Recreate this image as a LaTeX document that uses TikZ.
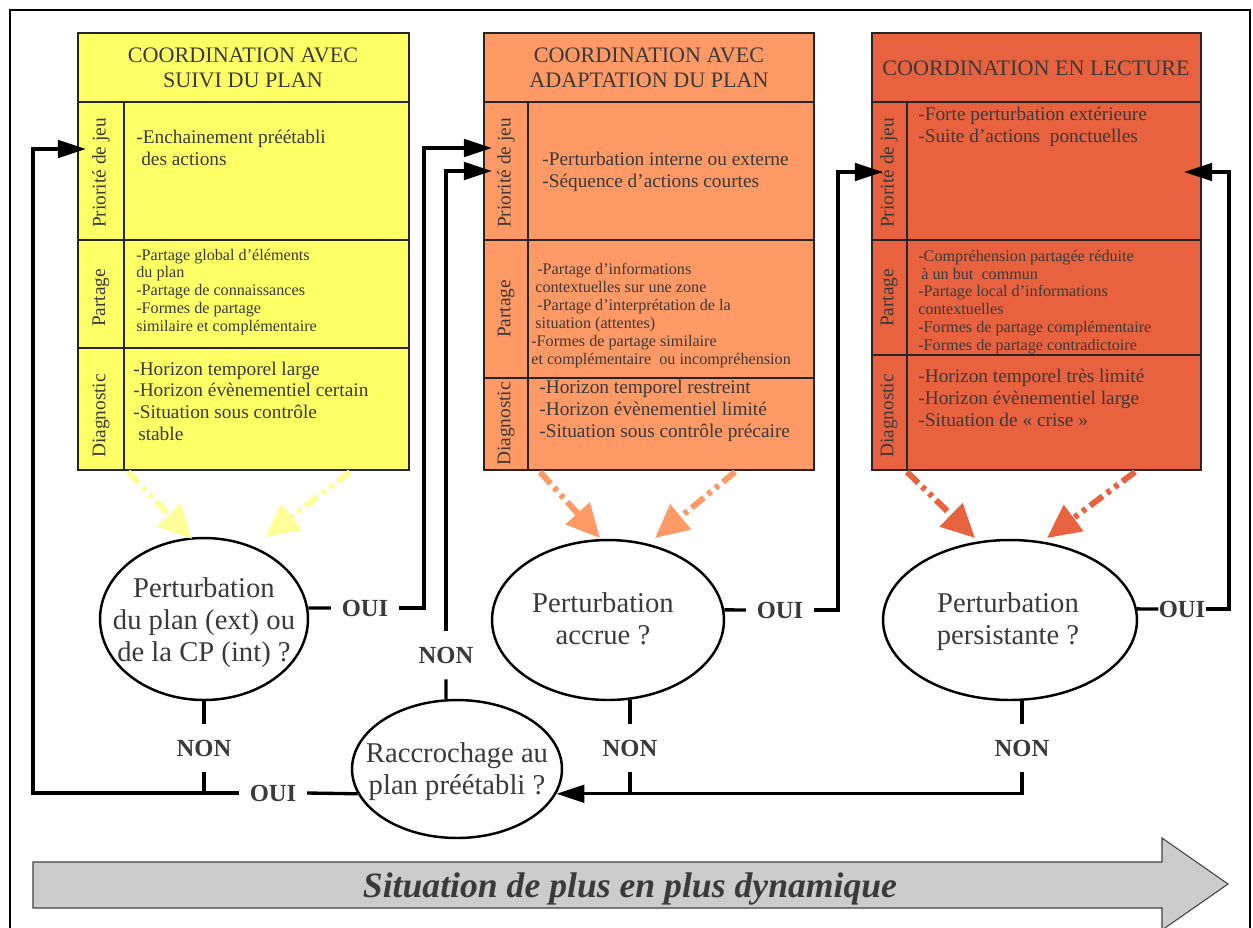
\documentclass[tikz,border=0pt]{standalone}
\usepackage{fontspec}
\setmainfont{Liberation Serif}
\usetikzlibrary{arrows.meta,shapes.geometric}
\definecolor{jaune}{HTML}{FFFF66}
\definecolor{jaunepale}{HTML}{FFFF99}
\definecolor{saumon}{HTML}{FF9966}
\definecolor{brique}{HTML}{E9623F}
\definecolor{encre}{HTML}{3A3A3A}
\definecolor{grisfleche}{HTML}{CCCCCC}
\newcommand{\taille}[2]{\fontsize{#1}{#2}\selectfont}

\begin{document}
\begin{tikzpicture}[x=0.02cm,y=-0.02cm,
  cadre/.style={draw=black!85,line width=0.7pt},
  tableau/.style={cadre,anchor=north west,inner sep=0pt,outer sep=0pt,minimum height=8.74cm,fill=#1},
  titre/.style={align=center,text=encre,font=\taille{12.6}{14.2}},
  cote/.style={rotate=90,text=encre,font=\taille{11}{13}},
  grand/.style={anchor=base west,align=left,inner sep=0pt,text=encre,font=\taille{11}{12.3}},
  petit/.style={anchor=base west,align=left,inner sep=0pt,text=encre,font=\taille{9.2}{10.1}},
  bulle/.style={ellipse,draw,line width=1.4pt,inner sep=0pt},
  bulletxt/.style={align=center,text=encre,font=\taille{16.3}{18.2}},
  lbl/.style={text=encre,font=\bfseries\taille{14}{16},inner xsep=6pt,inner ysep=9pt},
  lien/.style={line width=1.9pt},
  fleche/.style={lien,-{Triangle[length=16pt,width=10pt]}},
  influence/.style={draw=#1,line width=3.4pt,dash pattern=on 9pt off 3pt on 2.5pt off 3pt on 2.5pt off 3pt,-{Triangle[length=19pt,width=18pt,fill=#1]}}]
\useasboundingbox (0,0) rectangle (1253,927);
\draw[line width=0.9pt] (10,10) rectangle (1250,960);

% les trois tableaux
\node[tableau=jaune,minimum width=6.62cm] (boxA) at (78,33) {};
\draw[cadre] (78,102) -- (409,102);
\draw[cadre] (124,102) -- (124,470);
\draw[cadre] (78,240) -- (409,240);
\draw[cadre] (78,348) -- (409,348);
\node[tableau=saumon,minimum width=6.6cm] (boxB) at (484,33) {};
\draw[cadre] (484,102) -- (814,102);
\draw[cadre] (528,102) -- (528,470);
\draw[cadre] (484,240) -- (814,240);
\draw[cadre] (484,378) -- (814,378);
\node[tableau=brique,minimum width=6.58cm] (boxC) at (872,33) {};
\draw[cadre] (872,102) -- (1201,102);
\draw[cadre] (907,102) -- (907,470);
\draw[cadre] (872,240) -- (1201,240);
\draw[cadre] (872,355) -- (1201,355);

% textes (ancre sur la ligne de base de la derniere ligne)
\node[titre] (titreA) at (243,68) {COORDINATION AVEC\\SUIVI DU PLAN};
\node[cote] (prioA) at (101,173) {Priorité de jeu};
\node[cote] (partA) at (101,298) {Partage};
\node[cote] (diagA) at (101,416) {Diagnostic};
\node[grand] (txtA1) at (136,165) {-Enchainement préétabli\\\hspace{2.8pt}des actions};
\node[petit] (txtA2) at (136,331) {-Partage global d'éléments\\du plan\\-Partage de connaissances\\-Formes de partage\\similaire et complémentaire};
\node[grand] (txtA3) at (133,440) {-Horizon temporel large\\-Horizon évènementiel certain\\-Situation sous contrôle\\\hspace{2.8pt}stable};

\node[titre] (titreB) at (649,68) {COORDINATION AVEC\\ADAPTATION DU PLAN};
\node[cote] (prioB) at (506,173) {Priorité de jeu};
\node[cote] (partB) at (506,309) {Partage};
\node[cote] (diagB) at (506,424) {Diagnostic};
\node[grand] (txtB1) at (542,187) {-Perturbation interne ou externe\\-Séquence d'actions courtes};
\node[petit,font=\taille{9.2}{10.2}] (txtB2) at (531,364) {\hspace{3.4pt}-Partage d'informations\\\hspace{2.3pt}contextuelles sur une zone\\\hspace{3.4pt}-Partage d'interprétation de la\\\hspace{2.3pt}situation (attentes)\\-Formes de partage similaire\\et complémentaire~ ou incompréhension};
\node[grand] (txtB3) at (539,437) {-Horizon temporel restreint\\-Horizon évènementiel limité\\-Situation sous contrôle précaire};

\node[titre] (titreC) at (1036,68) {COORDINATION EN LECTURE};
\node[cote] (prioC) at (889,173) {Priorité de jeu};
\node[cote] (partC) at (889,298) {Partage};
\node[cote] (diagC) at (889,416) {Diagnostic};
\node[grand] (txtC1) at (918,142) {-Forte perturbation extérieure\\-Suite d'actions~ ponctuelles};
\node[petit] (txtC2) at (918,350) {-Compréhension partagée réduite\\\hspace{1.7pt}à un but~ commun\\-Partage local d'informations\\contextuelles\\-Formes de partage complémentaire\\-Formes de partage contradictoire};
\node[grand] (txtC3) at (918,426) {-Horizon temporel très limité\\-Horizon évènementiel large\\-Situation de « crise »};

% les questions
\node[bulle,minimum width=4.16cm,minimum height=3.24cm] (pplan) at (204,619) {};
\node[bulletxt] (pplantxt) at (204,623) {Perturbation\\du plan (ext) ou\\de la CP (int) ?};
\node[bulle,minimum width=4.64cm,minimum height=3.2cm] (paccrue) at (608,620) {};
\node[bulletxt] (paccruetxt) at (603,619) {Perturbation\\accrue ?};
\node[bulle,minimum width=5.08cm,minimum height=3.2cm] (ppersist) at (1010,620) {};
\node[bulletxt] (ppersisttxt) at (1008,622) {Perturbation\\persistante ?};
\node[bulle,minimum width=4.2cm,minimum height=2.76cm] (raccroche) at (457,769) {};
\node[bulletxt] (raccrochetxt) at (457,772) {Raccrochage au\\plan préétabli ?};

% fleches d'influence
\coordinate (tA1) at (192,539);
\coordinate (tA2) at (265,537);
\coordinate (tB1) at (600,538);
\coordinate (tB2) at (655,538);
\coordinate (tC1) at (975,538);
\coordinate (tC2) at (1047,538);
\draw[influence=jaunepale] (boxA.south west) ++(50,2) -- (tA1);
\draw[influence=jaunepale] (boxA.south west) ++(272,2) -- (tA2);
\draw[influence=saumon] (boxB.south west) ++(56,2) -- (tB1);
\draw[influence=saumon] (boxB.south west) ++(251,2) -- (tB2);
\draw[influence=brique] (boxC.south west) ++(35,2) -- (tC1);
\draw[influence=brique] (boxC.south west) ++(263,2) -- (tC2);

% oui / non
\node[lbl] (ouiA) at (365,608) {OUI};
\node[lbl] (nonA) at (204,748) {NON};
\node[lbl] (nonB) at (446,655) {NON};
\node[lbl] (ouiC) at (273,793) {OUI};
\node[lbl] (ouiD) at (780,610) {OUI};
\node[lbl] (nonD) at (630,748) {NON};
\node[lbl,inner xsep=0pt] (ouiE) at (1182,609) {OUI};
\node[lbl] (nonE) at (1022,748) {NON};

\coordinate (entA) at (86,149);
\coordinate (coinA) at (33,793);
\coordinate (coinB) at (424,148);
\coordinate (entB1) at (492,148);
\coordinate (entB2) at (492,171);
\coordinate (coinC1) at (838,172);
\coordinate (entC1) at (883,172);
\coordinate (coinC2) at (1229,172);
\coordinate (entC2) at (1184,172);

\draw[lien] (pplan.6) -- (ouiA.west);
\draw[fleche] (ouiA.east) -| (coinB) -- (entB1);
\draw[lien] (raccroche.99) -- (nonB.south);
\draw[fleche] (nonB.north) |- (entB2);
\draw[lien] (pplan.south) -- (nonA.north);
\draw[lien] (nonA.south) -- (nonA.south |- coinA);
\draw[lien] (raccroche.194) -- (ouiC.east);
\draw[fleche] (ouiC.west) -- (coinA) |- (entA);
\draw[lien] (paccrue.5) -- (ouiD.west);
\draw[fleche] (ouiD.east) -| (coinC1) -- (entC1);
\draw[lien] (ppersist.5) -- (ouiE.west);
\draw[fleche] (ouiE.east) -| (coinC2) -- (entC2);
\draw[lien] (nonD.north |- paccrue.-74) -- (nonD.north);
\draw[lien] (nonD.south) -- (nonD.south |- raccroche.-14);
\draw[lien] (nonE.north |- ppersist.-81) -- (nonE.north);
\draw[fleche] (nonE.south) |- (raccroche.-14);

% grande fleche
\draw[fill=grisfleche,draw=black!75,line width=0.6pt] (33,862) -- (1162,862) -- (1162,838) -- (1228,884) -- (1162,930) -- (1162,908) -- (33,908) -- cycle;
\node[text=encre,font=\bfseries\itshape\taille{20.3}{24}] (dynamique) at (630,889) {Situation de plus en plus dynamique};
\end{tikzpicture}
\end{document}
